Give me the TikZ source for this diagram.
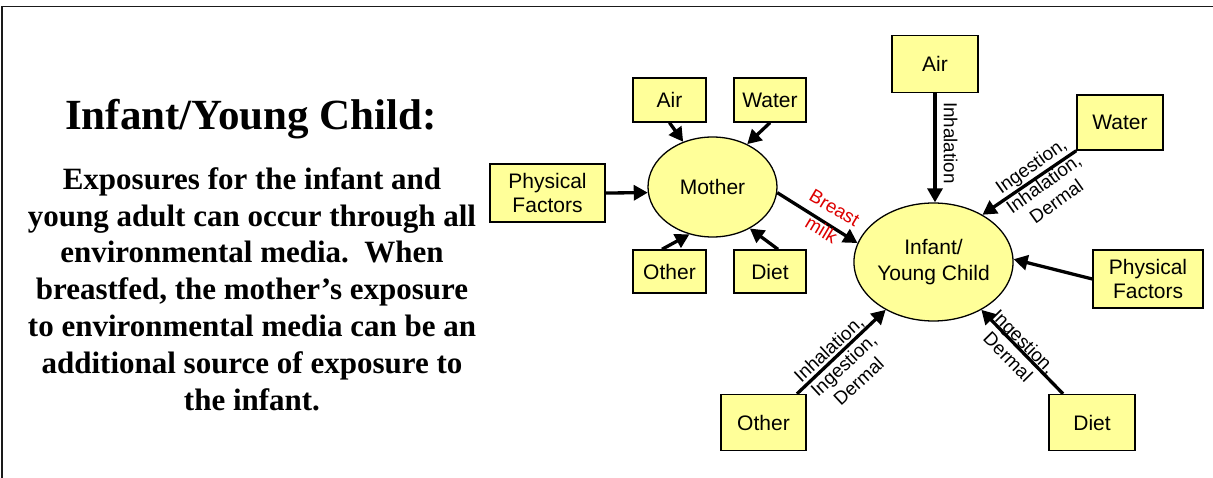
\documentclass[tikz,border=0pt]{standalone}
\usepackage{fontspec}
\setmainfont{Liberation Serif}
\setsansfont{Liberation Sans}
\usetikzlibrary{arrows.meta,shapes.geometric}
\definecolor{boxfill}{HTML}{FFFF99}
\definecolor{milkred}{HTML}{DD0000}
\definecolor{framegray}{HTML}{1A1A1A}

\begin{document}
\begin{tikzpicture}[x=1pt,y=-1pt,
  src/.style={draw=black, line width=1.4pt, fill=boxfill, rectangle, inner sep=0pt,
    align=center, font=\sffamily\fontsize{21}{24.5}\selectfont},
  hub/.style={draw=black, line width=1.3pt, fill=boxfill, ellipse, inner sep=0pt,
    align=center, font=\sffamily\fontsize{21}{25.5}\selectfont},
  flow/.style={line width=3.3pt, -{Triangle[length=14pt,width=15pt]}},
  route/.style={font=\sffamily\fontsize{18.8}{22}\selectfont, align=center, inner sep=0pt},
]
\useasboundingbox (0,0) rectangle (1213,478);

% page frame
\draw[framegray, line width=1.7pt] (2.2,478) -- (2.2,6.5) -- (1213,6.5);

% left-hand caption
\node[font=\bfseries\fontsize{43}{48}\selectfont, anchor=base] (title) at (251,130)
  {Infant/Young Child:};
\node[font=\bfseries\fontsize{31}{36.8}\selectfont, align=center] (body) at (252,289)
  {Exposures for the infant and\\
   young adult can occur through all\\
   environmental media.\ \ When\\
   breastfed, the mother’s exposure\\
   to environmental media can be an\\
   additional source of exposure to\\
   the infant.};

% mother and her sources
\node[hub, minimum width=129pt, minimum height=100pt] (mother) at (712.5,187) {Mother};
\node[src, minimum width=73pt, minimum height=44pt] (mAir)   at (669.5,100) {Air};
\node[src, minimum width=72pt, minimum height=44pt] (mWater) at (770,100) {Water};
\node[src, minimum width=115pt, minimum height=58pt] (mPhys) at (547.5,193) {Physical\\Factors};
\node[src, minimum width=73pt, minimum height=43pt] (mOther) at (669.5,271.5) {Other};
\node[src, minimum width=72pt, minimum height=43pt] (mDiet)  at (770,271.5) {Diet};

% infant and its sources
\node[hub, minimum width=143pt, minimum height=118pt] (infant) at (933.5,262) {Infant/\\Young Child};
\node[src, minimum width=86pt, minimum height=57pt] (iAir)   at (935,64) {Air};
\node[src, minimum width=86pt, minimum height=55pt] (iWater) at (1120,122.5) {Water};
\node[src, minimum width=110pt, minimum height=58pt] (iPhys) at (1148,279) {Physical\\Factors};
\node[src, minimum width=85pt, minimum height=56pt] (iOther) at (763.5,422.5) {Other};
\node[src, minimum width=86pt, minimum height=56pt] (iDiet)  at (1092,422.5) {Diet};

% exposures of the mother
\draw[flow] (mAir.south) -- (mother.123);
\draw[flow] (mWater.south) -- (mother.51);
\draw[flow] (mPhys.east) -- (mother.185);
\draw[flow] ([xshift=-7.5pt]mOther.north) -- (mother.244);
\draw[flow] ([xshift=8pt]mDiet.north) -- (mother.-48);

% breast milk
\draw[flow] (mother.-5) -- (infant.166);
\node[route, text=milkred, rotate=-30.7,
  font=\sffamily\fontsize{18.8}{25.5}\selectfont] (lMilk) at (828,219) {Breast\\milk};

% exposures of the infant
\draw[flow] (iAir.south) -- (iAir.south |- infant.north);
\draw[flow] (iWater.south west) -- (infant.44);
\draw[flow] (iPhys.west) -- (infant.2);
\draw[flow] ([xshift=33.5pt]iOther.north) -- (infant.225.7);
\draw[flow] ([xshift=-29pt]iDiet.north) -- (infant.-45);

\node[route, rotate=-90] (lAir) at (950.5,143) {Inhalation};
\node[route, rotate=35.4] (lWater) at (1043.5,183.5) {Ingestion,\\Inhalation,\\Dermal};
\node[route, rotate=42.8] (lOther) at (843.5,365) {Inhalation,\\Ingestion,\\Dermal};
\node[route, rotate=-45.3] (lDiet) at (1016,349) {Ingestion,\\Dermal};
\end{tikzpicture}
\end{document}
